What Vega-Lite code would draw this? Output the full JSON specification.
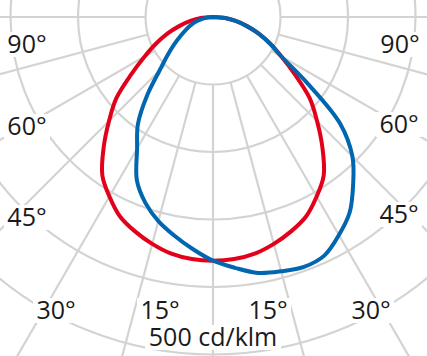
{
  "$schema": "https://vega.github.io/schema/vega-lite/v6.json",
  "width": 427,
  "height": 356,
  "padding": 0,
  "autosize": {"type": "none"},
  "background": "white",
  "config": {"view": {"stroke": null}},
  "datasets": {
    "rings": [{"r": 100}, {"r": 200}, {"r": 300}, {"r": 400}, {"r": 500}],
    "spokes": [
      {"x": 0, "y": -100, "x2": 0, "y2": -700},
      {"x": 25.9, "y": -96.6, "x2": 181.2, "y2": -676.1},
      {"x": 50, "y": -86.6, "x2": 350, "y2": -606.2},
      {"x": 70.7, "y": -70.7, "x2": 495, "y2": -495},
      {"x": 86.6, "y": -50, "x2": 606.2, "y2": -350},
      {"x": 96.6, "y": -25.9, "x2": 676.1, "y2": -181.2},
      {"x": 100, "y": 0, "x2": 700, "y2": 0},
      {"x": -25.9, "y": -96.6, "x2": -181.2, "y2": -676.1},
      {"x": -50, "y": -86.6, "x2": -350, "y2": -606.2},
      {"x": -70.7, "y": -70.7, "x2": -495, "y2": -495},
      {"x": -86.6, "y": -50, "x2": -606.2, "y2": -350},
      {"x": -96.6, "y": -25.9, "x2": -676.1, "y2": -181.2},
      {"x": -100, "y": 0, "x2": -700, "y2": 0}
    ],
    "curves": [
      {"series": "C0-C180", "i": 0, "x": 0, "y": 0},
      {"series": "C0-C180", "i": 1, "x": -17.9, "y": -1.6},
      {"series": "C0-C180", "i": 2, "x": -33.5, "y": -5.9},
      {"series": "C0-C180", "i": 3, "x": -50.2, "y": -13.5},
      {"series": "C0-C180", "i": 4, "x": -67.7, "y": -24.6},
      {"series": "C0-C180", "i": 5, "x": -84.3, "y": -39.3},
      {"series": "C0-C180", "i": 6, "x": -101.3, "y": -58.5},
      {"series": "C0-C180", "i": 7, "x": -121.2, "y": -84.9},
      {"series": "C0-C180", "i": 8, "x": -143.2, "y": -120.2},
      {"series": "C0-C180", "i": 9, "x": -154.1, "y": -154.1},
      {"series": "C0-C180", "i": 10, "x": -162.0, "y": -193.0},
      {"series": "C0-C180", "i": 11, "x": -164.0, "y": -234.3},
      {"series": "C0-C180", "i": 12, "x": -153.5, "y": -265.9},
      {"series": "C0-C180", "i": 13, "x": -137.8, "y": -295.5},
      {"series": "C0-C180", "i": 14, "x": -115.6, "y": -317.6},
      {"series": "C0-C180", "i": 15, "x": -90.1, "y": -336.1},
      {"series": "C0-C180", "i": 16, "x": -61.8, "y": -350.6},
      {"series": "C0-C180", "i": 17, "x": -31.4, "y": -358.6},
      {"series": "C0-C180", "i": 18, "x": 0, "y": -361},
      {"series": "C0-C180", "i": 19, "x": 31.4, "y": -358.6},
      {"series": "C0-C180", "i": 20, "x": 61.8, "y": -350.6},
      {"series": "C0-C180", "i": 21, "x": 90.1, "y": -336.1},
      {"series": "C0-C180", "i": 22, "x": 115.6, "y": -317.6},
      {"series": "C0-C180", "i": 23, "x": 137.8, "y": -295.5},
      {"series": "C0-C180", "i": 24, "x": 153.5, "y": -265.9},
      {"series": "C0-C180", "i": 25, "x": 164.0, "y": -234.3},
      {"series": "C0-C180", "i": 26, "x": 162.0, "y": -193.0},
      {"series": "C0-C180", "i": 27, "x": 154.1, "y": -154.1},
      {"series": "C0-C180", "i": 28, "x": 143.2, "y": -120.2},
      {"series": "C0-C180", "i": 29, "x": 121.2, "y": -84.9},
      {"series": "C0-C180", "i": 30, "x": 101.3, "y": -58.5},
      {"series": "C0-C180", "i": 31, "x": 84.3, "y": -39.3},
      {"series": "C0-C180", "i": 32, "x": 67.7, "y": -24.6},
      {"series": "C0-C180", "i": 33, "x": 50.2, "y": -13.5},
      {"series": "C0-C180", "i": 34, "x": 33.5, "y": -5.9},
      {"series": "C0-C180", "i": 35, "x": 17.9, "y": -1.6},
      {"series": "C0-C180", "i": 36, "x": 0, "y": 0},
      {"series": "C90-C270", "i": 0, "x": 0, "y": 0},
      {"series": "C90-C270", "i": 1, "x": -8.0, "y": -0.7},
      {"series": "C90-C270", "i": 2, "x": -16.7, "y": -3.0},
      {"series": "C90-C270", "i": 3, "x": -25.1, "y": -6.7},
      {"series": "C90-C270", "i": 4, "x": -32.9, "y": -12.0},
      {"series": "C90-C270", "i": 5, "x": -39.9, "y": -18.6},
      {"series": "C90-C270", "i": 6, "x": -47.6, "y": -27.5},
      {"series": "C90-C270", "i": 7, "x": -57.3, "y": -40.2},
      {"series": "C90-C270", "i": 8, "x": -67.4, "y": -56.6},
      {"series": "C90-C270", "i": 9, "x": -79.2, "y": -79.2},
      {"series": "C90-C270", "i": 10, "x": -97.7, "y": -116.4},
      {"series": "C90-C270", "i": 11, "x": -111.3, "y": -158.9},
      {"series": "C90-C270", "i": 12, "x": -112.5, "y": -194.9},
      {"series": "C90-C270", "i": 13, "x": -112.8, "y": -242.0},
      {"series": "C90-C270", "i": 14, "x": -100.2, "y": -275.3},
      {"series": "C90-C270", "i": 15, "x": -81.0, "y": -302.3},
      {"series": "C90-C270", "i": 16, "x": -57.1, "y": -324.0},
      {"series": "C90-C270", "i": 17, "x": -30.1, "y": -343.7},
      {"series": "C90-C270", "i": 18, "x": 0, "y": -361},
      {"series": "C90-C270", "i": 19, "x": 32.5, "y": -371.6},
      {"series": "C90-C270", "i": 20, "x": 66.8, "y": -379.1},
      {"series": "C90-C270", "i": 21, "x": 100.9, "y": -376.7},
      {"series": "C90-C270", "i": 22, "x": 134.7, "y": -370.2},
      {"series": "C90-C270", "i": 23, "x": 164.8, "y": -353.5},
      {"series": "C90-C270", "i": 24, "x": 186.5, "y": -323.0},
      {"series": "C90-C270", "i": 25, "x": 202.5, "y": -289.2},
      {"series": "C90-C270", "i": 26, "x": 207.6, "y": -247.4},
      {"series": "C90-C270", "i": 27, "x": 206.5, "y": -206.5},
      {"series": "C90-C270", "i": 28, "x": 188.4, "y": -158.1},
      {"series": "C90-C270", "i": 29, "x": 139.3, "y": -97.5},
      {"series": "C90-C270", "i": 30, "x": 101.3, "y": -58.5},
      {"series": "C90-C270", "i": 31, "x": 84.3, "y": -39.3},
      {"series": "C90-C270", "i": 32, "x": 67.7, "y": -24.6},
      {"series": "C90-C270", "i": 33, "x": 50.2, "y": -13.5},
      {"series": "C90-C270", "i": 34, "x": 33.5, "y": -5.9},
      {"series": "C90-C270", "i": 35, "x": 17.9, "y": -1.6},
      {"series": "C90-C270", "i": 36, "x": 0, "y": 0}
    ],
    "labels": [
      {"t": "90°", "kind": "angle", "x": -275.6, "y": -53.3},
      {"t": "90°", "kind": "angle", "x": 277, "y": -53.3},
      {"t": "60°", "kind": "angle", "x": -275.6, "y": -174.8},
      {"t": "60°", "kind": "angle", "x": 275.6, "y": -171.9},
      {"t": "45°", "kind": "angle", "x": -275.6, "y": -309.6},
      {"t": "45°", "kind": "angle", "x": 275.6, "y": -305.2},
      {"t": "30°", "kind": "angle", "x": -232.6, "y": -447.4},
      {"t": "30°", "kind": "angle", "x": 234.1, "y": -447.4},
      {"t": "15°", "kind": "angle", "x": -78.5, "y": -447.4},
      {"t": "15°", "kind": "angle", "x": 81.5, "y": -447.4},
      {"t": "500 cd/klm", "kind": "unit", "x": 0, "y": -487.4}
    ]
  },
  "layer": [
    {
      "data": {"name": "spokes"},
      "mark": {"type": "rule", "color": "#d3d3d3", "strokeWidth": 2.2, "clip": true},
      "encoding": {
        "x": {"field": "x", "type": "quantitative", "scale": {"domain": [-315.6, 317], "nice": false, "zero": false}, "axis": null},
        "y": {"field": "y", "type": "quantitative", "scale": {"domain": [-502.2, 25.2], "nice": false, "zero": false}, "axis": null},
        "x2": {"field": "x2"},
        "y2": {"field": "y2"}
      }
    },
    {
      "data": {"name": "rings"},
      "mark": {"type": "point", "shape": "circle", "filled": false, "stroke": "#d3d3d3", "strokeWidth": 2.2, "opacity": 1, "clip": true},
      "encoding": {
        "x": {"datum": 0, "type": "quantitative"},
        "y": {"datum": 0, "type": "quantitative"},
        "size": {"field": "r", "type": "quantitative", "scale": {"type": "pow", "exponent": 2, "domain": [0, 500], "range": [0, 455625]}, "legend": null}
      }
    },
    {
      "data": {"name": "curves"},
      "mark": {"type": "line", "strokeWidth": 4, "interpolate": "catmull-rom", "strokeCap": "round", "strokeJoin": "round", "clip": true},
      "encoding": {
        "x": {"field": "x", "type": "quantitative"},
        "y": {"field": "y", "type": "quantitative"},
        "order": {"field": "i", "type": "quantitative"},
        "color": {"field": "series", "type": "nominal", "scale": {"domain": ["C0-C180", "C90-C270"], "range": ["#e2001a", "#0066b0"]}, "legend": null}
      }
    },
    {
      "data": {"name": "labels"},
      "transform": [{"filter": "datum.kind == 'angle'"}],
      "mark": {"type": "point", "shape": "M-1.15,-1.05H1.15V0.2H-1.15Z", "size": 1600, "filled": true, "fill": "white", "strokeWidth": 0, "opacity": 1},
      "encoding": {
        "x": {"field": "x", "type": "quantitative"},
        "y": {"field": "y", "type": "quantitative"}
      }
    },
    {
      "data": {"name": "labels"},
      "transform": [{"filter": "datum.kind == 'unit'"}],
      "mark": {"type": "point", "shape": "M-3.4,-1.05H3.4V0.2H-3.4Z", "size": 1600, "filled": true, "fill": "white", "strokeWidth": 0, "opacity": 1},
      "encoding": {
        "x": {"field": "x", "type": "quantitative"},
        "y": {"field": "y", "type": "quantitative"}
      }
    },
    {
      "data": {"name": "labels"},
      "mark": {"type": "text", "font": "Open Sans", "fontSize": 25, "align": "center", "baseline": "alphabetic", "fill": "#1a1a1a"},
      "encoding": {
        "x": {"field": "x", "type": "quantitative"},
        "y": {"field": "y", "type": "quantitative"},
        "text": {"field": "t"}
      }
    }
  ]
}
